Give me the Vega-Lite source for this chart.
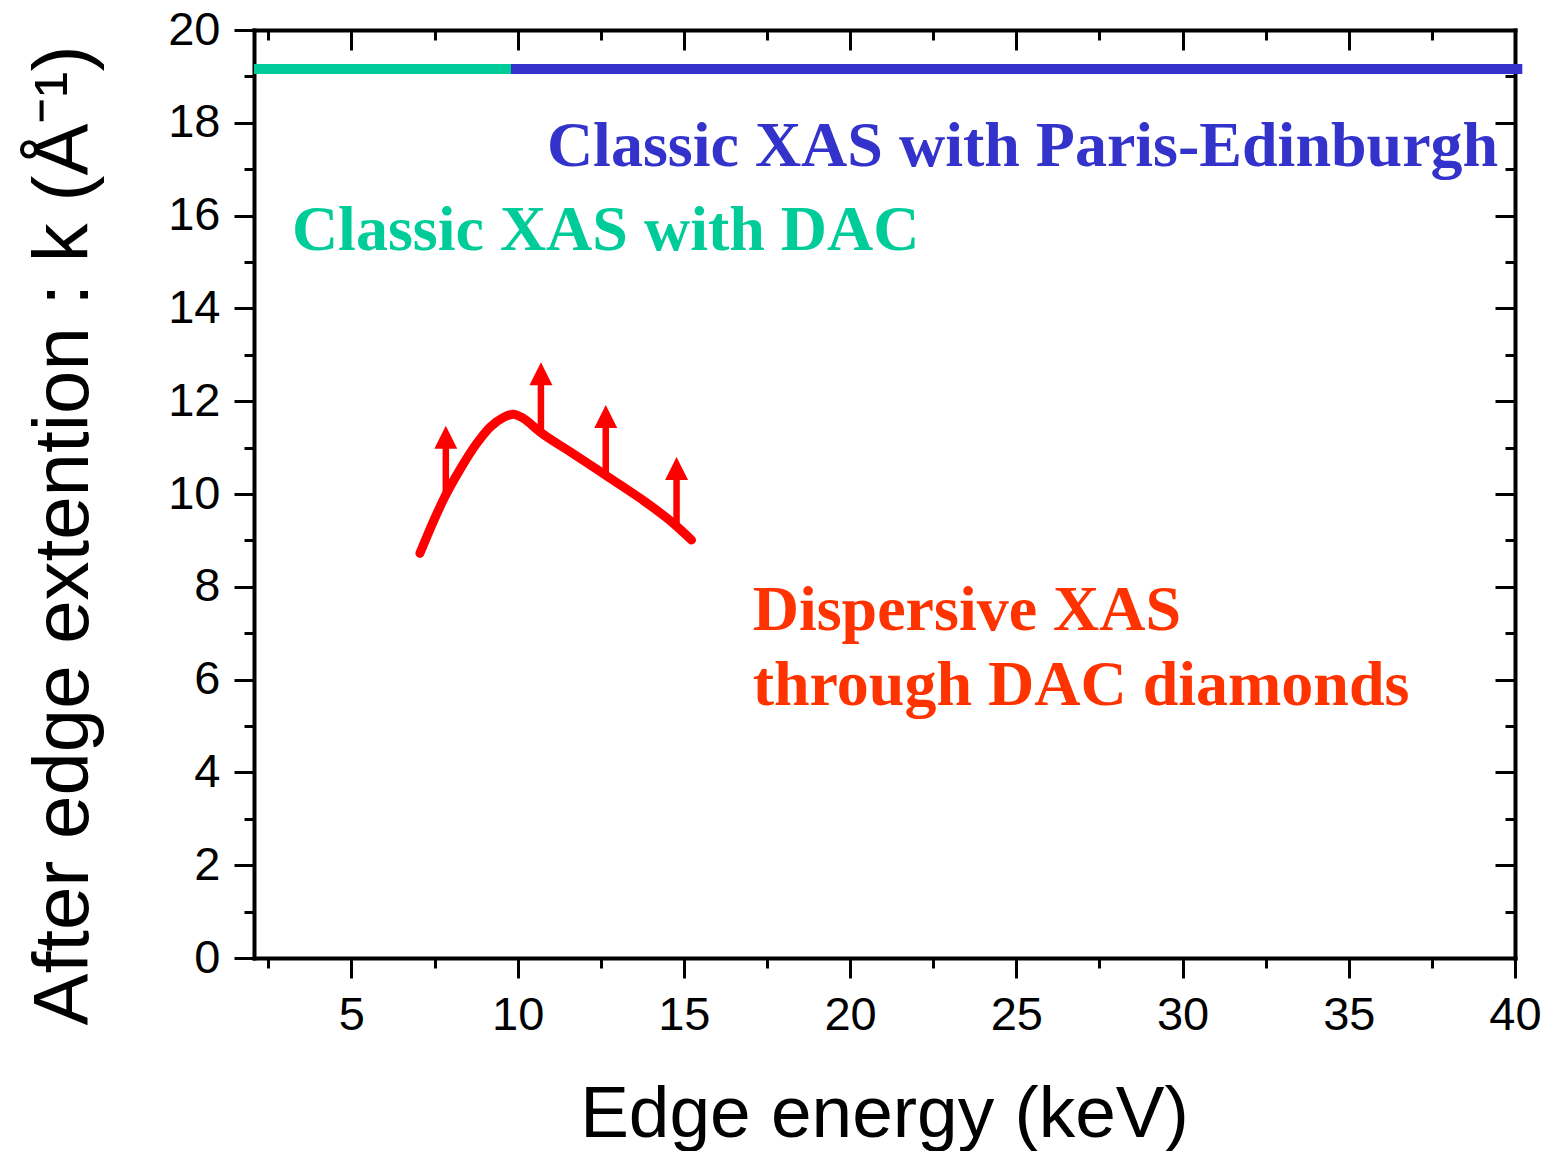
{
  "$schema": "https://vega.github.io/schema/vega-lite/v6.json",
  "autosize": "none",
  "width": 1261,
  "height": 928,
  "padding": {"left": 254, "top": 30, "right": 33, "bottom": 193},
  "background": "white",
  "config": {
    "view": {"stroke": null},
    "axis": {
      "grid": false,
      "domainColor": "black",
      "domainWidth": 4,
      "domainCap": "square",
      "tickColor": "black",
      "tickWidth": 3,
      "labelFont": "Liberation Sans",
      "labelFontSize": 47,
      "labelColor": "black",
      "titleFont": "Liberation Sans",
      "titleFontWeight": "normal",
      "titleColor": "black"
    }
  },
  "datasets": {
    "ranges": [
      {"method": "DAC", "start": 2.07, "end": 9.8, "k": 19.16},
      {"method": "Paris-Edinburgh", "start": 9.8, "end": 40.22, "k": 19.16}
    ],
    "dispersive": [
      {"energy": 7.06, "k": 8.72},
      {"energy": 7.46, "k": 9.4},
      {"energy": 7.81, "k": 9.94},
      {"energy": 8.26, "k": 10.52},
      {"energy": 8.77, "k": 11.09},
      {"energy": 9.17, "k": 11.44},
      {"energy": 9.57, "k": 11.65},
      {"energy": 9.87, "k": 11.72},
      {"energy": 10.17, "k": 11.63},
      {"energy": 10.67, "k": 11.34},
      {"energy": 11.67, "k": 10.87},
      {"energy": 12.57, "k": 10.44},
      {"energy": 13.68, "k": 9.91},
      {"energy": 14.68, "k": 9.37},
      {"energy": 15.23, "k": 9.01}
    ],
    "limits": [
      {"energy": 7.84, "k": 9.98, "kmax": 11.47},
      {"energy": 10.7, "k": 11.3, "kmax": 12.84},
      {"energy": 12.65, "k": 10.43, "kmax": 11.92},
      {"energy": 14.78, "k": 9.35, "kmax": 10.8}
    ],
    "notes": [
      {"label": "Classic XAS with Paris-Edinburgh", "energy": 10.88, "k": 17.07, "group": "Paris-Edinburgh"},
      {"label": "Classic XAS with DAC", "energy": 3.21, "k": 15.26, "group": "DAC"},
      {"label": "Dispersive XAS", "energy": 17.07, "k": 7.07, "group": "Dispersive"},
      {"label": "through DAC diamonds", "energy": 17.07, "k": 5.45, "group": "Dispersive"}
    ]
  },
  "resolve": {"axis": {"x": "independent", "y": "independent"}},
  "layer": [
    {
      "data": {"name": "ranges"},
      "mark": {"type": "rule", "strokeWidth": 10, "strokeCap": "butt"},
      "encoding": {
        "x": {
          "field": "start", "type": "quantitative",
          "scale": {"domain": [2.07, 40], "nice": false, "zero": false},
          "axis": {
            "orient": "bottom",
            "values": [5, 10, 15, 20, 25, 30, 35, 40],
            "tickSize": 20,
            "labelPadding": 51,
            "labelBaseline": "alphabetic",
            "labelFlush": false,
            "labelOverlap": false,
            "title": "Edge energy (keV)",
            "titleFontSize": 73,
            "titleX": 630,
            "titleY": 178,
            "titleAlign": "center",
            "titleBaseline": "alphabetic"
          }
        },
        "x2": {"field": "end"},
        "y": {
          "field": "k", "type": "quantitative",
          "scale": {"domain": [0, 20], "nice": false, "zero": false},
          "axis": {
            "orient": "left",
            "values": [0, 2, 4, 6, 8, 10, 12, 14, 16, 18, 20],
            "tickSize": 20,
            "labelPadding": 14,
            "labelFlush": false,
            "labelOverlap": false,
            "title": "After edge extention : k (Å⁻¹)",
            "titleFontSize": 78,
            "titleAngle": -90,
            "titleX": -167,
            "titleY": 505,
            "titleAlign": "center",
            "titleBaseline": "alphabetic"
          }
        },
        "color": {
          "field": "method", "type": "nominal",
          "scale": {"domain": ["DAC", "Paris-Edinburgh", "Dispersive"], "range": ["#00CC99", "#3333CC", "#FF3300"]},
          "legend": null
        }
      }
    },
    {
      "data": {"name": "dispersive"},
      "mark": {"type": "line", "color": "#FF0000", "strokeWidth": 9, "interpolate": "monotone", "strokeCap": "round", "strokeJoin": "round"},
      "encoding": {
        "x": {
          "field": "energy", "type": "quantitative",
          "axis": {
            "orient": "bottom",
            "values": [2.5, 7.5, 12.5, 17.5, 22.5, 27.5, 32.5, 37.5],
            "tickSize": 10,
            "labels": false,
            "domain": false,
            "title": null
          }
        },
        "y": {
          "field": "k", "type": "quantitative",
          "axis": {
            "orient": "left",
            "values": [1, 3, 5, 7, 9, 11, 13, 15, 17, 19],
            "tickSize": 10,
            "labels": false,
            "domain": false,
            "title": null
          }
        }
      }
    },
    {
      "data": {"name": "limits"},
      "mark": {"type": "rule", "color": "#FF0000", "strokeWidth": 6.5, "y2Offset": 12},
      "encoding": {
        "x": {
          "field": "energy", "type": "quantitative",
          "axis": {
            "orient": "top",
            "values": [5, 10, 15, 20, 25, 30, 35, 40],
            "tickSize": -20,
            "labels": false,
            "title": null
          }
        },
        "y": {
          "field": "k", "type": "quantitative",
          "axis": {
            "orient": "right",
            "values": [0, 2, 4, 6, 8, 10, 12, 14, 16, 18, 20],
            "tickSize": -20,
            "labels": false,
            "title": null
          }
        },
        "y2": {"field": "kmax"}
      }
    },
    {
      "data": {"name": "limits"},
      "mark": {"type": "point", "shape": "M-1,2L0,0L1,2Z", "size": 529, "filled": true, "color": "#FF0000", "opacity": 1, "strokeWidth": 0},
      "encoding": {
        "x": {
          "field": "energy", "type": "quantitative",
          "axis": {
            "orient": "top",
            "values": [2.5, 7.5, 12.5, 17.5, 22.5, 27.5, 32.5, 37.5],
            "tickSize": -10,
            "labels": false,
            "domain": false,
            "title": null
          }
        },
        "y": {
          "field": "kmax", "type": "quantitative",
          "axis": {
            "orient": "right",
            "values": [1, 3, 5, 7, 9, 11, 13, 15, 17, 19],
            "tickSize": -10,
            "labels": false,
            "domain": false,
            "title": null
          }
        }
      }
    },
    {
      "data": {"name": "notes"},
      "mark": {"type": "text", "font": "Liberation Serif", "fontWeight": "bold", "fontSize": 64, "align": "left", "baseline": "alphabetic"},
      "encoding": {
        "x": {"field": "energy", "type": "quantitative", "axis": null},
        "y": {"field": "k", "type": "quantitative", "axis": null},
        "text": {"field": "label"},
        "color": {
          "field": "group", "type": "nominal",
          "scale": {"domain": ["DAC", "Paris-Edinburgh", "Dispersive"], "range": ["#00CC99", "#3333CC", "#FF3300"]},
          "legend": null
        }
      }
    }
  ]
}
